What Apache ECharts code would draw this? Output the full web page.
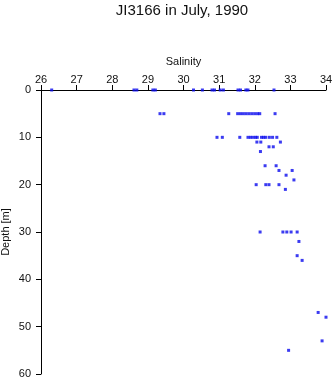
<!DOCTYPE html>
<html>
<head>
<meta charset="utf-8">
<script src="https://cdn.jsdelivr.net/npm/echarts@6/dist/echarts.min.js"></script>
<style>
html,body{margin:0;padding:0;background:#fff;}
#c{width:335px;height:384px;}
</style>
</head>
<body>
<div id="c"></div>
<script>
var title = "JI3166 in July, 1990";
var xName = "Salinity";
var yName = "Depth [m]";
var xTicks = [26, 27, 28, 29, 30, 31, 32, 33, 34];
var yTicks = [0, 10, 20, 30, 40, 50, 60];

var salinity = [
  26.30, 28.61, 28.69, 29.14, 29.21, 30.28, 30.53, 30.80, 30.87, 31.03, 31.12, 31.53, 31.60, 31.75, 31.81, 32.54,
  29.34, 29.45, 31.27, 31.52, 31.60, 31.68, 31.76, 31.84, 31.92, 32.00, 32.08, 32.14, 32.57,
  30.94, 31.09, 31.58, 31.81, 31.88, 31.95, 32.02, 32.07, 32.19, 32.25, 32.31, 32.41, 32.50, 32.62,
  32.06, 32.17, 32.72,
  32.40, 32.52,
  32.16,
  32.29, 32.60,
  32.68, 33.05,
  32.88,
  33.10,
  32.04, 32.31, 32.40, 32.68,
  32.86,
  32.15, 32.79, 32.90, 33.02, 33.19,
  33.24,
  33.19,
  33.33,
  33.78,
  34.00,
  33.89,
  32.95
];
var depth = [
  0, 0, 0, 0, 0, 0, 0, 0, 0, 0, 0, 0, 0, 0, 0, 0,
  5, 5, 5, 5, 5, 5, 5, 5, 5, 5, 5, 5, 5,
  10, 10, 10, 10, 10, 10, 10, 10, 10, 10, 10, 10, 10, 10,
  11, 11, 11,
  12, 12,
  13,
  16, 16,
  17, 17,
  18,
  19,
  20, 20, 20, 20,
  21,
  30, 30, 30, 30, 30,
  32,
  35,
  36,
  47,
  48,
  53,
  55
];

var pts = salinity.map(function (s, i) { return [s, depth[i]]; });
var font = "'Liberation Sans', Arial, sans-serif";

var chart = echarts.init(document.getElementById('c'), null, {renderer: 'canvas'});
chart.setOption({
  animation: false,
  backgroundColor: '#ffffff',
  title: {
    text: title,
    left: 182,
    textAlign: 'center',
    top: 3,
    padding: 0,
    textStyle: {fontFamily: font, fontSize: 15, fontWeight: 'normal', color: '#111'}
  },
  grid: {left: 41, right: 9, top: 90, bottom: 10, containLabel: false, outerBoundsMode: 'none'},
  xAxis: {
    type: 'value',
    position: 'top',
    min: xTicks[0],
    max: xTicks[xTicks.length - 1],
    interval: 1,
    name: xName,
    nameLocation: 'middle',
    nameGap: 23,
    nameMoveOverlap: false,
    nameTextStyle: {fontFamily: font, fontSize: 11, color: '#111'},
    axisLine: {show: true, onZero: false, lineStyle: {color: '#000', width: 1}},
    axisTick: {show: true, inside: false, length: 5, lineStyle: {color: '#000'}},
    axisLabel: {fontFamily: font, fontSize: 11, color: '#111', margin: 5},
    splitLine: {show: false}
  },
  yAxis: {
    type: 'value',
    inverse: true,
    min: yTicks[0],
    max: yTicks[yTicks.length - 1],
    interval: 10,
    name: yName,
    nameLocation: 'middle',
    nameRotate: 90,
    nameGap: 30,
    nameMoveOverlap: false,
    nameTextStyle: {fontFamily: font, fontSize: 11, color: '#111'},
    axisLine: {show: true, onZero: false, lineStyle: {color: '#000', width: 1}},
    axisTick: {show: true, inside: false, length: 5, lineStyle: {color: '#000'}},
    axisLabel: {fontFamily: font, fontSize: 11, color: '#111', margin: 10},
    splitLine: {show: false}
  },
  series: [{
    type: 'scatter',
    data: pts,
    symbol: 'rect',
    symbolSize: 3,
    clip: false,
    itemStyle: {color: '#0a0aee'}
  }]
});
</script>
</body>
</html>
